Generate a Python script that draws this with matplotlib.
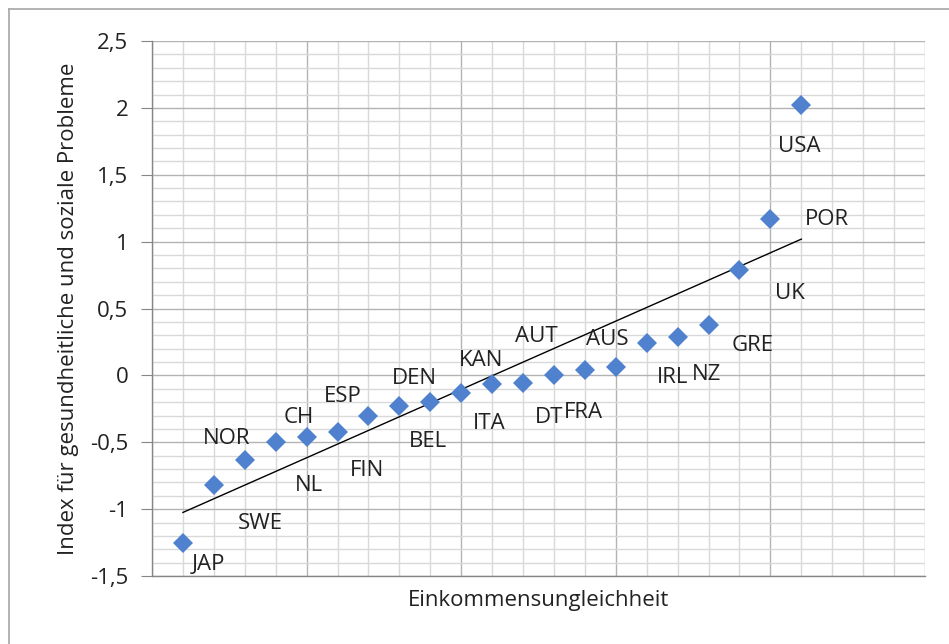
import numpy as np
import matplotlib
matplotlib.use("Agg")
import matplotlib.pyplot as plt
from matplotlib.ticker import MultipleLocator, FuncFormatter
from matplotlib.lines import Line2D

plt.rcParams['font.family'] = ['Open Sans', 'DejaVu Sans']

# ---- data ----
countries = ["JAP", "SWE", "NOR", "CH", "NL", "ESP", "FIN", "DEN", "BEL", "KAN",
             "ITA", "AUT", "DT", "FRA", "AUS", "IRL", "NZ", "GRE", "UK", "POR", "USA"]
rank = list(range(1, 22))
index_values = [-1.25, -0.82, -0.63, -0.50, -0.46, -0.42, -0.30, -0.23, -0.20, -0.13,
                -0.065, -0.055, 0.00, 0.04, 0.065, 0.24, 0.29, 0.38, 0.79, 1.17, 2.02]
y_ticks = [-1.5, -1.0, -0.5, 0.0, 0.5, 1.0, 1.5, 2.0, 2.5]

# label offsets in pixels (dx right, dy down) -- styling only
label_offsets = [(26, 22), (46, 38), (-18, -21), (23, -25), (2, 49), (5, -35),
                 (-1, 55), (15, -28), (-2, 39), (20, -32), (-3, 39), (13, -46),
                 (-5, 42), (-1, 42), (-8, -27), (26, 34), (29, 38), (44, 21),
                 (50, 24), (57, 1), (-2, 41)]

FS = 16
W, H = 949, 644
fig = plt.figure(figsize=(W / 100, H / 100), dpi=100)
fig.patch.set_facecolor('white')
ax = fig.add_axes([152 / W, (H - 576) / H, (925 - 152) / W, (576 - 41) / H])

ax.set_xlim(0, 25)
ax.set_ylim(-1.5, 2.5)

ax.set_yticks(y_ticks)
ax.yaxis.set_minor_locator(MultipleLocator(0.1))
ax.xaxis.set_major_locator(MultipleLocator(5))
ax.xaxis.set_minor_locator(MultipleLocator(1))

ax.grid(which='minor', color='#d9d9d9', linewidth=1.0, zorder=0)
ax.grid(which='major', color='#b3b3b3', linewidth=1.0, zorder=0)
ax.set_axisbelow(True)

ax.yaxis.set_major_formatter(FuncFormatter(lambda v, p: f"{v:g}".replace('.', ',')))
ax.tick_params(axis='y', which='major', length=8, color='#868686', labelsize=FS,
               pad=9, labelcolor='#222222')
ax.tick_params(axis='y', which='minor', length=0)
ax.tick_params(axis='x', which='both', length=0, labelbottom=False)

for s in ['top', 'right']:
    ax.spines[s].set_visible(False)
for s in ['left', 'bottom']:
    ax.spines[s].set_color('#868686')
    ax.spines[s].set_linewidth(1.0)

# trendline
coef = np.polyfit(rank, index_values, 1)
xs = np.array([rank[0], rank[-1]])
ax.plot(xs, np.polyval(coef, xs), color='black', linewidth=1.0, zorder=2)

ax.plot(rank, index_values, linestyle='none', marker='D', markersize=10,
        color='#4f81cf', markeredgewidth=0, zorder=3)

for c, xv, yv, (dx, dy) in zip(countries, rank, index_values, label_offsets):
    ax.annotate(c, (xv, yv), xytext=(dx, -dy), textcoords='offset pixels',
                ha='center', va='center', fontsize=FS, color='#222222', zorder=4)

ax.set_ylabel("Index für gesundheitliche und soziale Probleme", fontsize=FS,
              color='#222222', labelpad=8)
ax.set_xlabel("Einkommensungleichheit", fontsize=FS, color='#222222', labelpad=10)

# outer chart-area border (left and top)
fig.add_artist(Line2D([9 / W, 9 / W], [0, 1 - 9 / H], color='#a6a6a6', linewidth=1.2,
                      transform=fig.transFigure))
fig.add_artist(Line2D([9 / W, 1], [1 - 9 / H, 1 - 9 / H], color='#a6a6a6', linewidth=1.2,
                      transform=fig.transFigure))

fig.savefig("out.png", dpi=100)
